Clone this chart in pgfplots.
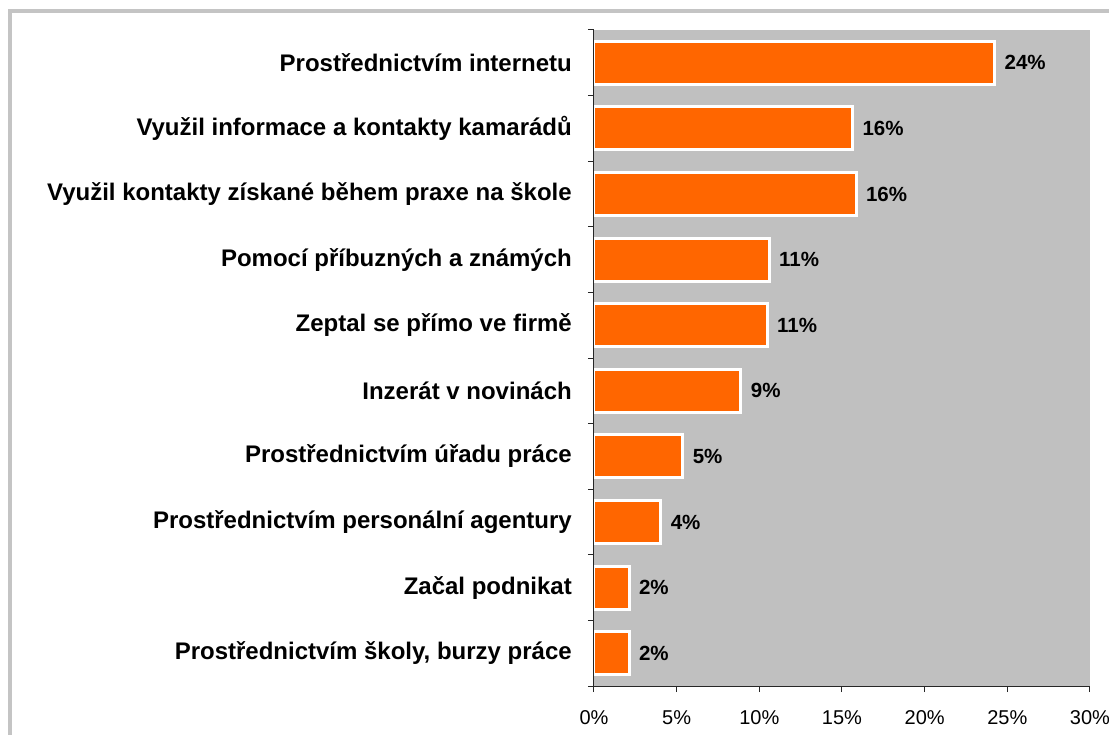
\documentclass[border=0pt]{standalone}
\usepackage{fontspec}
\setmainfont{Liberation Sans}
\usepackage{pgfplots}
\pgfplotsset{compat=1.18}
\definecolor{barorange}{HTML}{FF6600}
\definecolor{plotgray}{HTML}{C0C0C0}
\definecolor{framegray}{HTML}{C4C4C4}
\begin{document}
\begin{tikzpicture}[x=1pt,y=1pt]
\useasboundingbox (0,0) rectangle (1109,734);
\draw[framegray, line width=4pt] (9.5,-5) -- (9.5,722.5) -- (1115,722.5);
\begin{axis}[
  at={(594pt,48pt)}, anchor=south west,
  scale only axis, width=496pt, height=656pt,
  xbar, bar width=43pt,
  xmin=0, xmax=30, ymin=-0.5, ymax=9.5, y dir=reverse,
  axis background/.style={fill=plotgray},
  axis on top,
  axis x line*=bottom, axis y line*=left,
  axis line style={-, black!85, line width=1pt},
  xtick={0,5,...,30},
  xticklabels={0\%,5\%,10\%,15\%,20\%,25\%,30\%},
  ytick={-0.5,0.5,...,9.5},
  yticklabels={},
  extra y ticks={0,...,9},
  extra y tick labels={Prostřednictvím internetu, Využil informace a kontakty kamarádů, Využil kontakty získané během praxe na škole, Pomocí příbuzných a známých, Zeptal se přímo ve firmě, Inzerát v novinách, Prostřednictvím úřadu práce\hspace{0.278em}, Prostřednictvím personální agentury, Začal podnikat, {Prostřednictvím školy, burzy práce}},
  extra y tick style={major tick length=0pt, tick style={draw=none}},
  tick align=outside,
  major tick length=6pt,
  tick style={black!85, line width=1pt},
  yticklabel style={font=\fontsize{24}{27}\selectfont\bfseries, anchor=east, inner sep=0pt, xshift=-22pt},
  xticklabel style={font=\fontsize{20}{23}\selectfont, inner sep=0pt, yshift=-18pt},
  point meta=explicit symbolic,
  nodes near coords={\pgfplotspointmeta},
  every node near coord/.append style={anchor=west, inner sep=0pt, xshift=8.5pt, font=\fontsize{20.5}{23}\selectfont\bfseries, black},
  clip=false,
]
\addplot[fill=barorange, draw=white, line width=3pt] coordinates {
 (24.23,0) [24\%]
 (15.64,1) [16\%]
 (15.85,2) [16\%]
 (10.59,3) [11\%]
 (10.47,4) [11\%]
 (8.89,5) [9\%]
 (5.37,6) [5\%]
 (4.04,7) [4\%]
 (2.12,8) [2\%]
 (2.12,9) [2\%]
};
\end{axis}
\end{tikzpicture}
\end{document}
